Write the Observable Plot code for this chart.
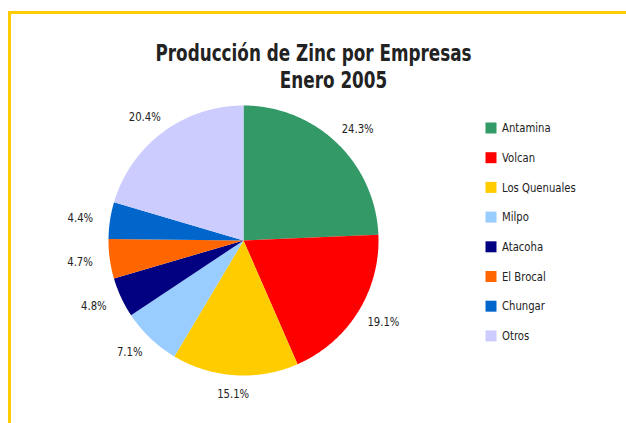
<!DOCTYPE html>
<html>
<head>
<meta charset="utf-8">
<script src="https://cdn.jsdelivr.net/npm/d3@7"></script>
<script src="https://cdn.jsdelivr.net/npm/@observablehq/plot@0.6"></script>
<style>
  html, body { margin: 0; padding: 0; background: #fff; }
  #wrap { position: relative; width: 626px; height: 423px; overflow: hidden; }
  #border { position: absolute; left: 8px; top: 11px; right: 0; bottom: 0;
            border-top: 3px solid #FFCC00; border-left: 3px solid #FFCC00; }
  #chart { position: absolute; left: 0; top: 0; }
  svg text { font-family: "Liberation Sans Narrow", "DejaVu Sans Condensed", "DejaVu Sans", sans-serif; font-stretch: condensed; }
</style>
</head>
<body>
<div id="wrap"><div id="border"></div><div id="chart"></div></div>
<script>
const titleLine1 = "Producción de Zinc por Empresas";
const titleLine2 = "Enero 2005";
const companies = ["Antamina", "Volcan", "Los Quenuales", "Milpo", "Atacoha", "El Brocal", "Chungar", "Otros"];
const shares = [24.3, 19.1, 15.1, 7.1, 4.8, 4.7, 4.4, 20.4];
const labels = ["24.3%", "19.1%", "15.1%", "7.1%", "4.8%", "4.7%", "4.4%", "20.4%"];
const colors = ["#339966", "#FF0000", "#FFCC00", "#99CCFF", "#000080", "#FF6600", "#0066CC", "#CCCCFF"];

// pie geometry in unit-circle coordinates (radius 1), angles clockwise from top
const pie = d3.pie().sort(null).value(d => d.v)(companies.map((n, i) => ({n, v: shares[i]})));
const wedges = [];
pie.forEach(s => {
  const n = s.data.n;
  wedges.push({n, x: 0, y: 0});
  const steps = Math.max(2, Math.ceil((s.endAngle - s.startAngle) / 0.01));
  for (let k = 0; k <= steps; k++) {
    const a = s.startAngle + (s.endAngle - s.startAngle) * k / steps;
    wedges.push({n, x: Math.sin(a), y: Math.cos(a)});
  }
  wedges.push({n, x: 0, y: 0});
});

const R = 135;            // pixel radius
const gap = 13 / R, hw = 17 / R, hh = 6 / R;
const labelData = pie.map((s, i) => {
  const a = (s.startAngle + s.endAngle) / 2;
  return {
    t: labels[i],
    x: Math.sin(a) * (1 + gap) + hw * Math.sin(a),
    y: Math.cos(a) * (1 + gap) + hh * Math.cos(a)
  };
});

const legendData = companies.map((n, i) => ({n, x: 1.8, y: (240 - 127.5 - i * 29.7) / R}));

const chart = Plot.plot({
  width: 626,
  height: 423,
  margin: 0,
  x: {domain: [-1, 1], range: [243 - R, 243 + R], axis: null},
  y: {domain: [-1, 1], range: [240 + R, 240 - R], axis: null},
  color: {domain: companies, range: colors},
  style: {background: "transparent", overflow: "visible"},
  marks: [
    Plot.line(wedges, {x: "x", y: "y", z: "n", fill: "n", stroke: "none", curve: "linear"}),
    Plot.text(labelData, {x: "x", y: "y", text: "t", fill: "#222", fontSize: 13, textAnchor: "middle", lineAnchor: "middle", className: "lbl"}),
    Plot.dot(legendData, {x: "x", y: "y", fill: "n", symbol: "square", r: 6.2, stroke: "none", dx: 4.5}),
    Plot.text(legendData, {x: "x", y: "y", text: "n", fill: "#222", fontSize: 13, textAnchor: "start", dx: 15.5, className: "lbl"}),
    Plot.text([titleLine1], {frameAnchor: "top", text: d => d, fontSize: 22.5, fontWeight: "bold", fill: "#222", dy: 45, lineAnchor: "top", className: "ttl"}),
    Plot.text([titleLine2], {frameAnchor: "top", text: d => d, fontSize: 22.5, fontWeight: "bold", fill: "#222", dy: 72, dx: 20, lineAnchor: "top", className: "ttl"})
  ]
});
document.getElementById("chart").appendChild(chart);

// condense glyphs to mimic the narrow typeface of the original
function condense(sel, k) {
  chart.querySelectorAll(sel + " text").forEach(t => {
    const len = t.getComputedTextLength();
    t.setAttribute("textLength", (len * k).toFixed(1));
    t.setAttribute("lengthAdjust", "spacingAndGlyphs");
  });
}
const firstTitle = chart.querySelector(".ttl text");
const kTitle = Math.min(1, 316 / firstTitle.getComputedTextLength());
condense(".ttl", kTitle);
const probe = [...chart.querySelectorAll(".lbl text")].find(t => t.textContent === "24.3%");
const kLbl = Math.min(1, 32 / probe.getComputedTextLength());
condense(".lbl", kLbl);
</script>
</body>
</html>
